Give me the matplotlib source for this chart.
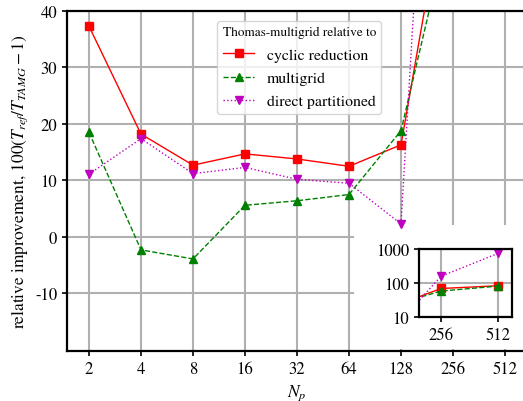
import matplotlib
matplotlib.use("Agg")
import matplotlib.pyplot as plt
from matplotlib.patches import Rectangle
from matplotlib.ticker import FixedLocator, FixedFormatter, NullLocator

plt.rcParams['font.family'] = ['STIXGeneral', 'DejaVu Serif']
plt.rcParams['mathtext.fontset'] = 'stix'

n_procs = [2, 4, 8, 16, 32, 64, 128, 256, 512]
x_labels = ['2', '4', '8', '16', '32', '64', '128', '256', '512']
cyclic_reduction = [37.3, 18.2, 12.7, 14.7, 13.8, 12.5, 16.3, 69, 83]
multigrid = [18.5, -2.3, -3.9, 5.6, 6.4, 7.5, 18.8, 58, 81]
direct_partitioned = [11.1, 17.4, 11.2, 12.3, 10.2, 9.5, 2.3, 158, 740]
y_ticks = [-10, 0, 10, 20, 30, 40]
inset_x = [256, 512]
inset_y = [10, 100, 1000]

fig = plt.figure(figsize=(5.23, 4.02), dpi=100)
ax = fig.add_axes([0.1281, 0.1244, 0.8795, 0.8458])

styles = [
    (cyclic_reduction, dict(color='r', ls='-', marker='s', label='cyclic reduction')),
    (multigrid, dict(color='g', ls='--', marker='^', label='multigrid')),
    (direct_partitioned, dict(color='m', ls=':', marker='v', label='direct partitioned')),
]
for vals, st in styles:
    ax.plot(n_procs, vals, lw=1.0, ms=5.5, zorder=3, **st)

ax.set_xscale('log', base=2)
ax.set_xlim(2 ** 0.577, 2 ** 9.423)
ax.xaxis.set_major_locator(FixedLocator(n_procs))
ax.xaxis.set_major_formatter(FixedFormatter(x_labels))
ax.xaxis.set_minor_locator(NullLocator())
ax.set_ylim(-20.2, 40)
ax.set_yticks(y_ticks)
ax.set_yticklabels([str(v) for v in y_ticks])
ax.grid(True, color='#b0b0b0', lw=1.5)
ax.tick_params(labelsize=12, width=1.2, length=3.5)
for s in ax.spines.values():
    s.set_linewidth(1.6)

ax.set_xlabel('$N_p$', fontsize=12.5)
ax.set_ylabel('relative improvement, $100(T_{ref}/T_{TAMG}-1)$', fontsize=12.5)

leg = ax.legend(loc='upper center', bbox_to_anchor=(0.505, 0.995),
                title='Thomas-multigrid relative to', fontsize=11.3,
                title_fontsize=9.5, handlelength=2.0, labelspacing=0.6,
                borderpad=0.35)

# white backing behind inset
rect = Rectangle((0.677, 0.129), 0.33, 0.308, transform=fig.transFigure,
                 facecolor='white', edgecolor='none', zorder=1.6)
ax.add_patch(rect)

ins = fig.add_axes([0.801, 0.209, 0.178, 0.169])
for vals, st in styles:
    ins.plot(n_procs, vals, lw=1.0, ms=5.5, **st)
ins.set_xscale('log', base=2)
ins.set_yscale('log')
ins.set_xlim(2 ** 7.61, 2 ** 9.25)
ins.set_ylim(10, 1000)
ins.xaxis.set_major_locator(FixedLocator(inset_x))
ins.xaxis.set_major_formatter(FixedFormatter([str(v) for v in inset_x]))
ins.xaxis.set_minor_locator(NullLocator())
ins.yaxis.set_major_locator(FixedLocator(inset_y))
ins.yaxis.set_major_formatter(FixedFormatter([str(v) for v in inset_y]))
ins.yaxis.set_minor_locator(NullLocator())
ins.grid(True, color='#b0b0b0', lw=1.5)
ins.tick_params(labelsize=12, width=1.2, length=3.5)
for s in ins.spines.values():
    s.set_linewidth(1.6)

fig.savefig('out.png', dpi=100)
